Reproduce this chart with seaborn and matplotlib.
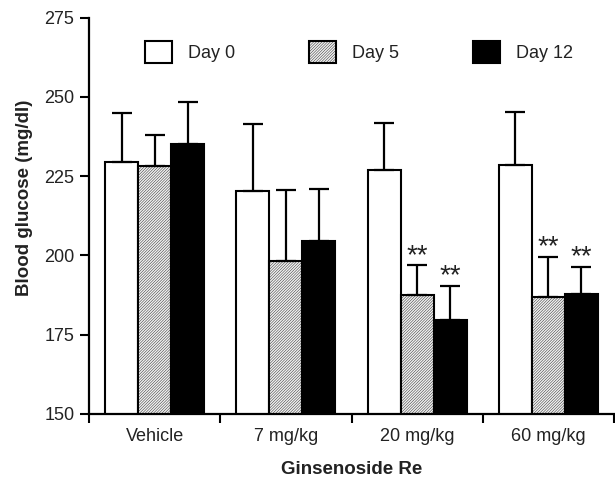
import numpy as np
import pandas as pd
import matplotlib
matplotlib.use("Agg")
import matplotlib.pyplot as plt
import seaborn as sns

# ---- data ----
groups = ["Vehicle", "7 mg/kg", "20 mg/kg", "60 mg/kg"]
days = ["Day 0", "Day 5", "Day 12"]
day0 = [229.6, 220.3, 226.8, 228.5]
day0_err = [15.3, 21.3, 15.1, 16.7]
day5 = [228.3, 198.4, 187.5, 186.8]
day5_err = [9.6, 22.2, 9.5, 12.8]
day12 = [235.1, 204.4, 179.7, 187.8]
day12_err = [13.4, 16.7, 10.8, 8.7]
sig_day0 = ["", "", "", ""]
sig_day5 = ["", "", "**", "**"]
sig_day12 = ["", "", "**", "**"]
yticks = [150, 175, 200, 225, 250, 275]

df = pd.DataFrame({
    "group": groups * 3,
    "day": [d for d in days for _ in groups],
    "glucose": day0 + day5 + day12,
    "err": day0_err + day5_err + day12_err,
    "sig": sig_day0 + sig_day5 + sig_day12,
})

sns.set_theme(style="ticks")
plt.rcParams["font.family"] = ["Liberation Sans", "DejaVu Sans"]
plt.rcParams["hatch.linewidth"] = 0.28

fig = plt.figure(figsize=(6.15, 4.78), dpi=100)
ax = fig.add_axes([89 / 615, 1 - 414 / 478, 525 / 615, 396.4 / 478])

sns.barplot(data=df, x="group", y="glucose", hue="day", order=groups,
            hue_order=days, palette=["white", "#f0f0f0", "black"],
            saturation=1, width=0.754, gap=0, errorbar=None,
            edgecolor="black", linewidth=1.5, legend=False, ax=ax)

for p in ax.containers[1]:
    p.set_hatch("////////////")

# error bars and significance marks, positioned from the drawn bars
for cont, day in zip(ax.containers, days):
    sub = df[df["day"] == day].set_index("group").loc[groups]
    xs = [p.get_x() + p.get_width() / 2 for p in cont]
    ys = [p.get_y() + p.get_height() for p in cont]
    ax.errorbar(xs, ys, yerr=[np.zeros(len(xs)), sub["err"].values],
                fmt="none", ecolor="black", elinewidth=1.6, capsize=7.5,
                capthick=1.6, zorder=1)
    for x, y, e, s in zip(xs, ys, sub["err"].values, sub["sig"].values):
        if s:
            ax.annotate(s, (x, y + e), xytext=(0, 6.5), textcoords="offset points",
                        ha="center", va="center", fontsize=20, color="#222222")

ax.set_ylim(150, 275)
ax.set_xlim(-0.5, 3.5)
ax.set_yticks(yticks)
ax.set_yticklabels([str(t) for t in yticks])
ax.set_xticks(range(len(groups)))
ax.set_xticklabels(groups)
ax.set_xticks(np.arange(-0.5, len(groups), 1.0), minor=True)
ax.tick_params(axis="x", which="major", length=0, pad=10, labelsize=13, colors="#222222")
ax.tick_params(axis="x", which="minor", length=6.5, width=1.5, direction="out", color="black")
ax.tick_params(axis="y", length=6.5, width=1.5, pad=4, labelsize=13, color="black", labelcolor="#222222")

for s in ["top", "right"]:
    ax.spines[s].set_visible(False)
for s in ["left", "bottom"]:
    ax.spines[s].set_linewidth(1.6)
    ax.spines[s].set_color("black")

ax.set_ylabel("Blood glucose (mg/dl)", fontsize=13.5, fontweight="bold", color="#222222")
ax.set_xlabel("Ginsenoside Re", fontsize=13.5, fontweight="bold", color="#222222")
ax.yaxis.set_label_coords(-0.107, 0.545)
ax.xaxis.set_label_coords(0.5, -0.118)

leg = ax.legend(ax.containers, days, loc="center", bbox_to_anchor=(0.514, 0.9125),
                ncol=3, frameon=False, fontsize=13, handlelength=1.5,
                handleheight=1.5, handletextpad=0.87, columnspacing=4.1,
                borderpad=0)
for t in leg.get_texts():
    t.set_color("#222222")

fig.savefig("out.png", dpi=100)
